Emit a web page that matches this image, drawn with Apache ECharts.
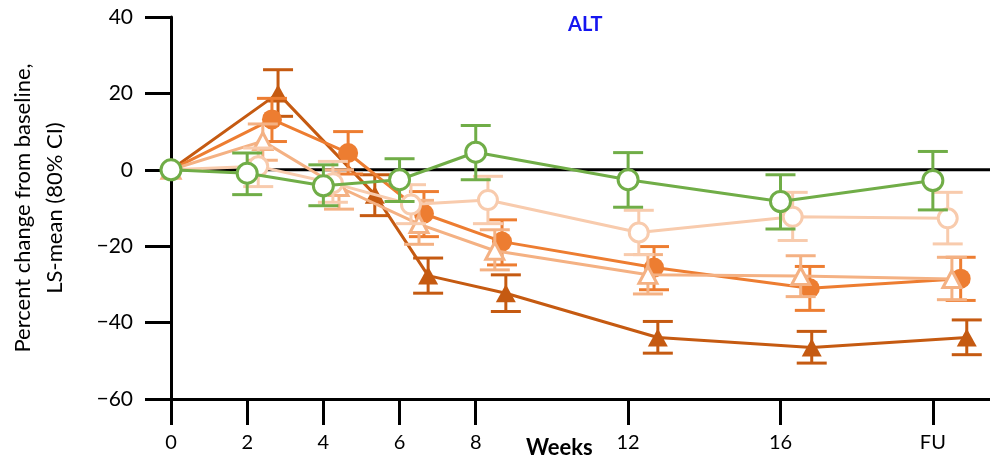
<!DOCTYPE html>
<html>
<head>
<meta charset="utf-8">
<script src="https://cdn.jsdelivr.net/npm/echarts@6/dist/echarts.min.js"></script>
<style>html,body{margin:0;padding:0;background:#fff}#c{width:990px;height:465px}</style>
</head>
<body>
<div id="c"></div>
<script>
// Tick labels
var xTickValues = [0, 2, 4, 6, 8, 12, 16, 20];
var xTickLabels = ['0', '2', '4', '6', '8', '12', '16', 'FU'];
var yTicks = [-60, -40, -20, 0, 20, 40];

// Series (x positions are the dodged week positions)
var greenX  = [0, 2, 4, 6, 8, 12, 16, 20];
var greenY  = [0, -0.9, -4.2, -2.6, 4.6, -2.6, -8.3, -2.8];
var greenHi = [null, 4.4, 1.3, 2.9, 11.6, 4.5, -1.3, 4.8];
var greenLo = [null, -6.5, -9.4, -8.3, -2.6, -9.8, -15.5, -10.5];

var peachX  = [0, 2.29, 4.25, 6.3, 8.32, 12.28, 16.32, 20.39];
var peachY  = [0, 0.9, -3.5, -9.1, -7.9, -16.4, -12.3, -12.7];
var peachHi = [null, 5.7, 2.2, -3.9, -1.7, -10.6, -5.9, -5.9];
var peachLo = [null, -4.4, -8.5, -14.1, -14.1, -22.2, -18.5, -19.4];

var ltriX  = [0, 2.41, 4.41, 6.51, 8.5, 12.52, 16.53, 20.5];
var ltriY  = [0, 7.5, -4.5, -14.2, -21.2, -27.5, -27.8, -28.6];
var ltriHi = [null, 12, 0, -8, -15.7, -22.2, -22.5, -22.9];
var ltriLo = [null, 2.5, -10.3, -19.5, -26.2, -32.5, -33.2, -34];

var orangeX  = [0, 2.65, 4.65, 6.64, 8.69, 12.68, 16.77, 20.73];
var orangeY  = [0, 13.2, 4.4, -11.5, -18.8, -25.6, -31, -28.5];
var orangeHi = [null, 18.7, 10, -5.7, -13.1, -20.1, -25.3, -22.9];
var orangeLo = [null, 7.4, -1.1, -17.5, -24.9, -31.4, -36.8, -34.2];

var darkX  = [0, 2.81, 5.35, 6.75, 8.79, 12.78, 16.82, 20.89];
var darkY  = [0, 20, -6.5, -27.7, -32.3, -43.9, -46.5, -43.9];
var darkHi = [null, 26.2, -1.3, -23.1, -27.5, -39.7, -42.3, -39.3];
var darkLo = [null, 14, -12, -32.3, -37.1, -48, -50.6, -48.4];

var FONT = 'Lato, "Open Sans", sans-serif';

function pts(xs, ys) { return xs.map(function (x, i) { return [x, ys[i]]; }); }
function bars(xs, lo, hi) {
  var out = [];
  xs.forEach(function (x, i) { if (lo[i] != null) out.push([x, lo[i], hi[i]]); });
  return out;
}
function errSeries(xs, lo, hi, color, z) {
  return {
    type: 'custom', z: z, silent: true,
    data: bars(xs, lo, hi),
    encode: { x: 0, y: [1, 2] },
    renderItem: function (params, api) {
      var x = api.value(0);
      var a = api.coord([x, api.value(1)]);
      var b = api.coord([x, api.value(2)]);
      var w = 15;
      var st = { stroke: color, lineWidth: 3 };
      return { type: 'group', children: [
        { type: 'line', shape: { x1: a[0], y1: a[1], x2: b[0], y2: b[1] }, style: st },
        { type: 'line', shape: { x1: a[0] - w, y1: a[1], x2: a[0] + w, y2: a[1] }, style: st },
        { type: 'line', shape: { x1: b[0] - w, y1: b[1], x2: b[0] + w, y2: b[1] }, style: st }
      ]};
    }
  };
}
function lineSeries(xs, ys, color, symbol, size, open, z) {
  return {
    type: 'line', z: z, silent: true,
    data: pts(xs, ys),
    symbol: symbol, symbolSize: size, showAllSymbol: true,
    lineStyle: { color: color, width: 3 },
    itemStyle: open ? { color: '#ffffff', borderColor: color, borderWidth: 3 }
                    : { color: color, borderWidth: 0 }
  };
}

var cGreen = '#70AD47', cPeach = '#F8CBAD', cLtri = '#F4B183', cOrange = '#ED7D31', cDark = '#C55A11';

var chart = echarts.init(document.getElementById('c'), null, { renderer: 'canvas' });
chart.setOption({
  animation: false,
  backgroundColor: '#ffffff',
  title: {
    text: 'ALT', left: 563, top: 10,
    textStyle: { color: '#1515F0', fontSize: 20, fontWeight: 'bold', fontFamily: FONT }
  },
  grid: { left: 171, right: 0, top: 17, bottom: 66, containLabel: false, outerBoundsMode: 'none' },
  xAxis: {
    type: 'value', min: 0, max: 21.5,
    splitLine: { show: false },
    axisLine: { show: true, onZero: false, lineStyle: { color: '#000', width: 3 } },
    axisTick: { show: true, customValues: xTickValues, length: 26, inside: false, lineStyle: { color: '#000', width: 3 } },
    axisLabel: {
      customValues: xTickValues, margin: 34, color: '#000', fontSize: 20, fontFamily: FONT,
      formatter: function (v) { var i = xTickValues.indexOf(v); return i >= 0 ? xTickLabels[i] : ''; }
    }
  },
  yAxis: {
    type: 'value', min: -60, max: 40, interval: 20,
    splitLine: { show: false },
    axisLine: { show: true, onZero: false, lineStyle: { color: '#000', width: 3 } },
    axisTick: { show: true, length: 26, lineStyle: { color: '#000', width: 3 } },
    axisLabel: {
      margin: 38, color: '#000', fontSize: 21, fontFamily: FONT,
      formatter: function (v) { return v < 0 ? '\u2212' + Math.abs(v) : String(v); }
    },
    name: 'Percent change from baseline,\nLS-mean (80% CI)',
    nameLocation: 'middle', nameGap: 100, nameRotate: 90,
    nameTextStyle: { color: '#000', fontSize: 22, lineHeight: 32, fontFamily: FONT, align: 'center' }
  },
  graphic: [
    { type: 'text', left: 526, top: 437, style: { text: 'Weeks', fill: '#000', font: 'bold 22px ' + FONT } }
  ],
  series: [
    { type: 'line', z: 1, silent: true, data: [[0, 0], [21.5, 0]], symbol: 'none',
      lineStyle: { color: '#000', width: 3 } },
    errSeries(darkX, darkLo, darkHi, cDark, 2),
    lineSeries(darkX, darkY, cDark, 'triangle', [20, 18], false, 3),
    errSeries(orangeX, orangeLo, orangeHi, cOrange, 4),
    lineSeries(orangeX, orangeY, cOrange, 'circle', 20, false, 5),
    errSeries(ltriX, ltriLo, ltriHi, cLtri, 6),
    lineSeries(ltriX, ltriY, cLtri, 'triangle', [18, 17], true, 7),
    errSeries(peachX, peachLo, peachHi, cPeach, 8),
    lineSeries(peachX, peachY, cPeach, 'circle', 19, true, 9),
    errSeries(greenX, greenLo, greenHi, cGreen, 10),
    lineSeries(greenX, greenY, cGreen, 'circle', 20, true, 11)
  ]
});
</script>
</body>
</html>
